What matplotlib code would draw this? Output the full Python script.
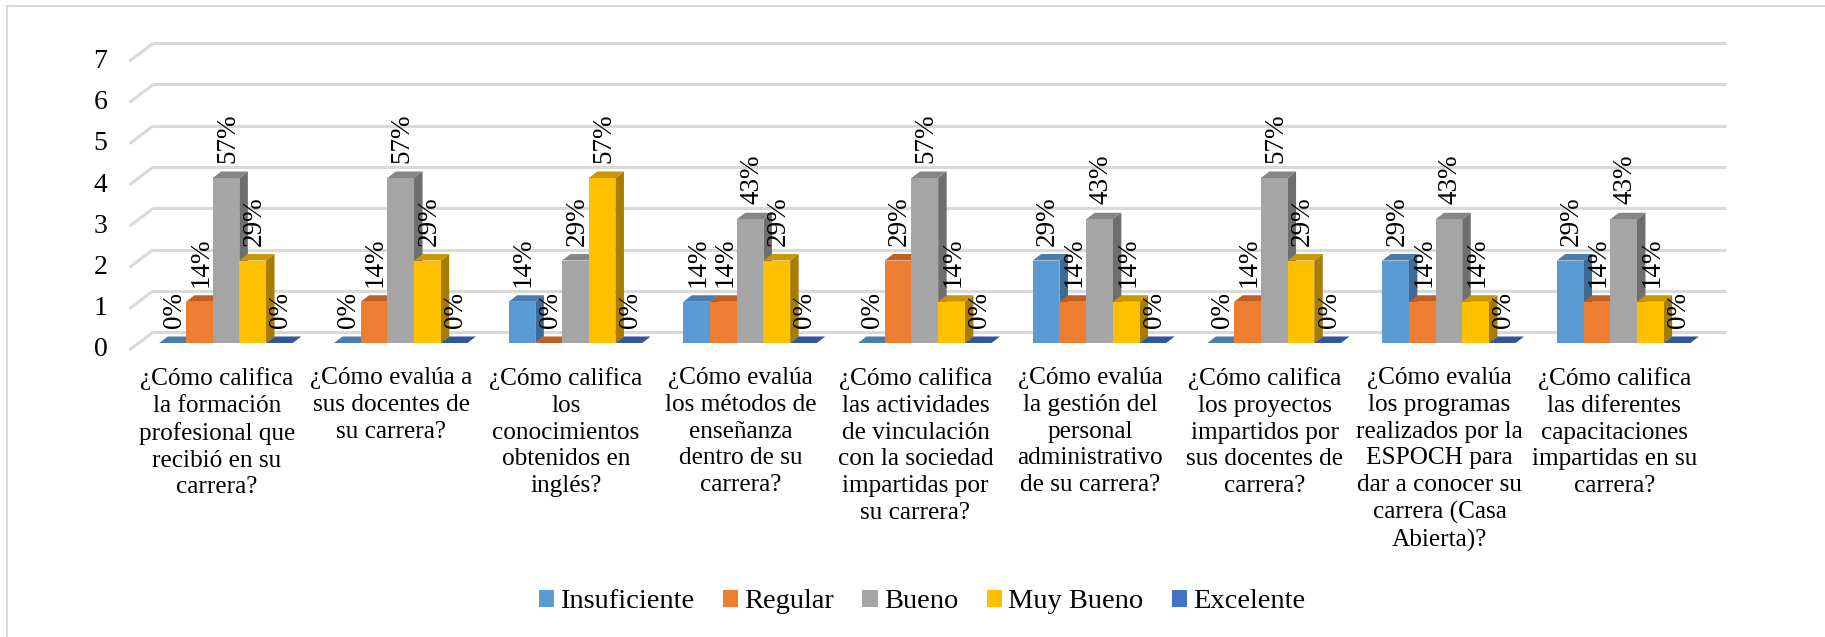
import matplotlib
matplotlib.use("Agg")
import matplotlib.pyplot as plt
from matplotlib.patches import Polygon, Patch
from matplotlib.lines import Line2D

plt.rcParams['font.family'] = ['Liberation Serif', 'DejaVu Serif']

# respuestas por pregunta (n = 7 encuestados)
preguntas = [
    "¿Cómo califica\nla formación\nprofesional que\nrecibió en su\ncarrera?",
    "¿Cómo evalúa a\nsus docentes de\nsu carrera?",
    "¿Cómo califica\nlos\nconocimientos\nobtenidos en\ninglés?",
    "¿Cómo evalúa\nlos métodos de\nenseñanza\ndentro de su\ncarrera?",
    "¿Cómo califica\nlas actividades\nde vinculación\ncon la sociedad\nimpartidas por\nsu carrera?",
    "¿Cómo evalúa\nla gestión del\npersonal\nadministrativo\nde su carrera?",
    "¿Cómo califica\nlos proyectos\nimpartidos por\nsus docentes de\ncarrera?",
    "¿Cómo evalúa\nlos programas\nrealizados por la\nESPOCH para\ndar a conocer su\ncarrera (Casa\nAbierta)?",
    "¿Cómo califica\nlas diferentes\ncapacitaciones\nimpartidas en su\ncarrera?",
]
series = ["Insuficiente", "Regular", "Bueno", "Muy Bueno", "Excelente"]
insuficiente = [0, 0, 1, 1, 0, 2, 0, 2, 2]
regular = [1, 1, 0, 1, 2, 1, 1, 1, 1]
bueno = [4, 4, 2, 3, 4, 3, 4, 3, 3]
muy_bueno = [2, 2, 4, 2, 1, 1, 2, 1, 1]
excelente = [0, 0, 0, 0, 0, 0, 0, 0, 0]
total = 7

valores = [insuficiente, regular, bueno, muy_bueno, excelente]
# colores frente / tapa / lado
c_frente = ['#5B9BD5', '#ED7D31', '#A5A5A5', '#FFC000', '#4472C4']
c_tapa = ['#4A7DAB', '#BF5F24', '#868686', '#C99700', '#30569C']
c_lado = ['#3E6A93', '#A9531E', '#6E6E6E', '#A67D00', '#284A88']

W, H = 1825, 637
fig = plt.figure(figsize=(W / 100, H / 100), dpi=100)
ax = fig.add_axes([0, 0, 1, 1])

# escala en pixeles: una categoria y una unidad del eje
CAT = 174.7
UNI = 41.25
X0, Y0 = 226.0, 343.0
ax.set_xlim(-X0 / CAT, (W - X0) / CAT)
ax.set_ylim((Y0 - H) / UNI, Y0 / UNI)
ax.axis('off')

# profundidad (en unidades de datos)
ddx, ddy = 8.5 / CAT, 6.5 / UNI       # grosor de barra
fx, fy = -9.3 / CAT, -7.0 / UNI       # plano frontal del piso
bx, by = 14.7 / CAT, 11.0 / UNI       # pared de fondo
ancho = 26.7 / CAT
n = len(preguntas)
grid_c = '#D9D9D9'

# pared de fondo y pared lateral
for v in range(0, 8):
    ax.plot([-0.5 + bx, n - 0.5 + bx], [v + by, v + by], color=grid_c, lw=2.2,
            solid_capstyle='butt', zorder=1)
    ax.plot([-0.5 + fx, -0.5 + bx], [v + fy, v + by], color=grid_c, lw=2.2,
            solid_capstyle='butt', zorder=1)
    ax.text(-0.5 + fx - 22 / CAT, v + fy, str(v), ha='right', va='center',
            fontsize=20)

# barras 3D
z = 2
for i in range(n):
    for k in range(len(series)):
        v = valores[k][i]
        xc = i + (k - 2) * ancho
        x1, x2 = xc - ancho / 2, xc + ancho / 2
        lado = Polygon([(x2, 0), (x2, v), (x2 + ddx, v + ddy), (x2 + ddx, ddy)],
                       closed=True, facecolor=c_lado[k], edgecolor='none', zorder=z)
        tapa = Polygon([(x1, v), (x2, v), (x2 + ddx, v + ddy), (x1 + ddx, v + ddy)],
                       closed=True, facecolor=c_tapa[k], edgecolor='none', zorder=z + 1)
        ax.add_patch(lado)
        ax.add_patch(tapa)
        ax.bar(xc, v, width=ancho, color=c_frente[k], zorder=z + 2, linewidth=0)
        z += 3
        pct = round(v / total * 100)
        ax.text(xc + 1.5 / CAT, v + 15 / UNI, f"{pct}%", rotation=90, ha='center',
                va='bottom', fontsize=19.5, zorder=200)

# etiquetas de categoria
for i, p in enumerate(preguntas):
    ax.text(i + fx, (Y0 - 367) / UNI, p, ha='center', va='top', fontsize=18.2,
            linespacing=1.28, zorder=200)

# leyenda
handles = [Patch(facecolor=c, edgecolor='none', label=s) for c, s in zip(c_frente, series)]
fig.legend(handles=handles, loc='center', bbox_to_anchor=(922 / W, 1 - 602 / H), ncol=5,
           frameon=False, fontsize=20.5, handlelength=0.55, handleheight=0.5,
           handletextpad=0.2, columnspacing=1.0)

# marco del grafico
fig.add_artist(Line2D([7 / W, 7 / W], [0, 1 - 6 / H], transform=fig.transFigure,
                      color=grid_c, lw=1.5))
fig.add_artist(Line2D([7 / W, 1], [1 - 6 / H, 1 - 6 / H], transform=fig.transFigure,
                      color=grid_c, lw=1.5))

fig.savefig("out.png", dpi=100, facecolor='white')
